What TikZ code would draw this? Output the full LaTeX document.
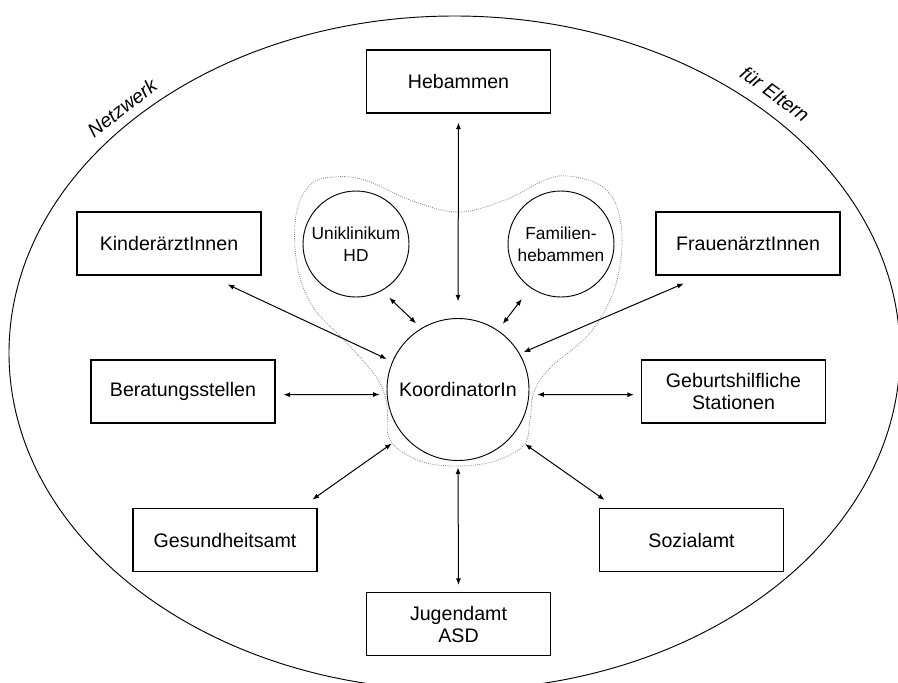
\documentclass[tikz,border=0pt]{standalone}
\usepackage{fontspec}
\setmainfont{Liberation Sans}
\usepackage{tikz}
\usetikzlibrary{arrows.meta}

\tikzset{
  stelle/.style={draw, line width=0.8pt, minimum width=138pt, minimum height=47.25pt, inner sep=0pt, align=center, font=\fontsize{14.7}{16.5}\selectfont},
  kreis/.style={draw, circle, line width=0.7pt, minimum size=79.5pt, inner sep=0pt, align=center, font=\fontsize{13}{16.5}\selectfont},
  link/.style={<->, line width=0.75pt, >={Latex[length=5pt,width=3.8pt]}},
}

\begin{document}
\begin{tikzpicture}[x=0.75pt,y=0.75pt,yscale=-1,xscale=1]
\useasboundingbox (0,0) rectangle (898,682);

%Ellipse [outer network]
\draw [line width=0.7pt] (454.5,353) ellipse (445.5 and 337);
% Text Node
\node (netz) at (122,108) [rotate=38, font=\fontsize{14.7}{16}\selectfont\itshape] {Netzwerk};
% Text Node
\node (eltern) at (775,94) [rotate=-36, font=\fontsize{14.7}{16}\selectfont\itshape] {für Eltern};

%Curve Lines [dotted group]
\draw [gray, densely dotted, line width=0.6pt] plot [smooth cycle, tension=0.6] coordinates {
  (458,466) (420,461) (390,440) (387,405) (377,378) (347,343) (313,307) (297,265)
  (296,215) (310,185) (333,177) (365,180) (410,200) (458,212) (505,200) (545,180)
  (568,176) (600,185) (617,207) (622,245) (614,290) (590,333) (550,368) (534,392)
  (530,420) (524,445) (495,461)};

%Shapes [boxes]
\node [stelle] (heb) at (458.5,81.5) {Hebammen};
\node [stelle] (kinder) at (169,243.5) {KinderärztInnen};
\node [stelle] (frauen) at (748,243.5) {FrauenärztInnen};
\node [stelle] (berat) at (183,391.5) {Beratungsstellen};
\node [stelle] (geburt) at (733.5,391.5) {Geburtshilfliche\\Stationen};
\node [stelle] (gesund) at (225,540) {Gesundheitsamt};
\node [stelle] (sozial) at (691.5,540) {Sozialamt};
\node [stelle] (jugend) at (458.5,624) {Jugendamt\\ASD};

%Shapes [circles]
\node [kreis, minimum size=106.5pt, font=\fontsize{14.7}{16.5}\selectfont] (koord) at (458,389.5) {KoordinatorIn};
\node [kreis] (uni) at (356,244) {Uniklinikum\\HD};
\node [kreis] (fam) at (561,244) {Familien-\\hebammen};

%Straight Lines [arrows]
\draw [link, shorten <=6.75pt, shorten >=12.4pt] (heb.south) -- (koord.north);
\draw [link, shorten <=7.5pt, shorten >=5.25pt] (uni.-61) -- (koord.121);
\draw [link, shorten <=10.5pt, shorten >=6pt] (fam.-125) -- (koord.56);
\draw [link, shorten <=15.75pt, shorten >=4.5pt] (kinder.-39) -- (koord.157);
\draw [link, shorten <=15pt, shorten >=3pt] (frauen.-145) -- (koord.30);
\draw [link, shorten <=6pt, shorten >=5.25pt] (berat.-2) -- (koord.184);
\draw [link, shorten <=6pt, shorten >=5.25pt] (koord.-4) -- (geburt.182);
\draw [link, shorten <=10.9pt, shorten >=10.5pt] (gesund.23) -- (koord.-140);
\draw [link, shorten <=10.5pt, shorten >=11.25pt] (sozial.157) -- (koord.-40);
\draw [link, shorten <=4.9pt, shorten >=5.25pt] (koord.south) -- (jugend.north);
\end{tikzpicture}
\end{document}
